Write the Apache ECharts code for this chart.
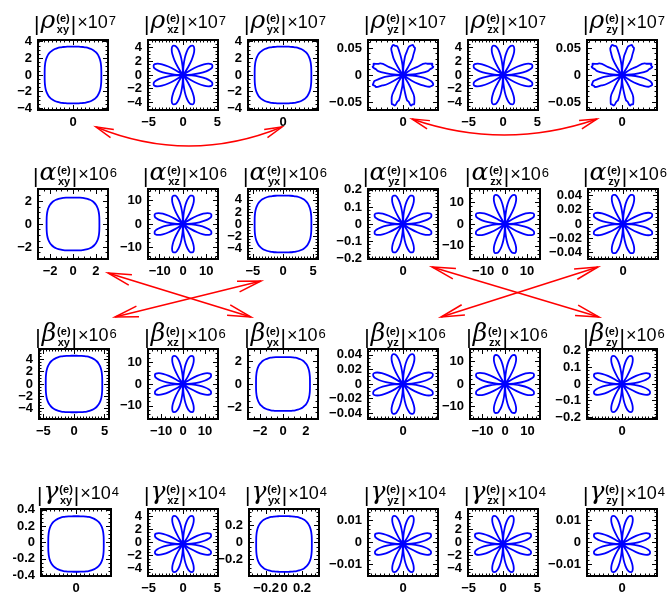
<!DOCTYPE html>
<html><head><meta charset="utf-8">
<script src="https://cdn.jsdelivr.net/npm/echarts@6/dist/echarts.min.js"></script>
<style>html,body{margin:0;padding:0;background:#fff}#c{width:669px;height:595px}</style>
</head><body><div id="c"></div>
<script>
// ---------------- data ----------------
const quantities = ['ρ', 'α', 'β', 'γ'];
const exponents = ['7', '6', '6', '4'];
const components = ['xy', 'xz', 'yx', 'yz', 'zx', 'zy'];
const shapes = [
  ['sq', 'rose', 'sq', 'nrose', 'rose', 'nrose'],
  ['sq', 'rose', 'sq', 'rose', 'rose', 'rose'],
  ['sq', 'rose', 'sq', 'rose', 'rose', 'rose'],
  ['sq', 'rose', 'sq', 'rose', 'rose', 'rose']
];
// half-range of each panel's axes
const rhoRange   = [4.2, 5.1, 4.2, 0.065, 5.1, 0.065];
const alphaRange = [3.05, 15, 5.8, 0.205, 16, 0.049];
const betaRange  = [5.7, 16, 3.05, 0.048, 15.5, 0.21];
const gammaRange = [0.41, 5.1, 0.39, 0.0153, 5.1, 0.0153];
// size of each curve (axis radius of the rounded square, petal length of the rose)
const rhoPeak   = [3.4, 4.5, 3.4, 0.059, 4.5, 0.059];
const alphaPeak = [2.3, 12.8, 4.7, 0.175, 14, 0.043];
const betaPeak  = [4.6, 13.5, 2.35, 0.043, 13.5, 0.177];
const gammaPeak = [0.325, 4.3, 0.31, 0.0129, 4.3, 0.0129];
// tick labels
const rhoYTicks = [[-4,-2,0,2,4],[-4,-2,0,2,4],[-4,-2,0,2,4],[-0.05,0,0.05],[-4,-2,0,2,4],[-0.05,0,0.05]];
const rhoXTicks = [[0],[-5,0,5],[0],[0],[-5,0,5],[0]];
const alphaYTicks = [[-2,0,2],[-10,0,10],[-4,-2,0,2,4],[-0.2,-0.1,0,0.1,0.2],[-10,0,10],[-0.04,-0.02,0,0.02,0.04]];
const alphaXTicks = [[-2,0,2],[-10,0,10],[-5,0,5],[0],[-10,0,10],[0]];
const betaYTicks = [[-4,-2,0,2,4],[-10,0,10],[-2,0,2],[-0.04,-0.02,0,0.02,0.04],[-10,0,10],[-0.2,-0.1,0,0.1,0.2]];
const betaXTicks = [[-5,0,5],[-10,0,10],[-2,0,2],[0],[-10,0,10],[0]];
const gammaYTicks = [[-0.4,-0.2,0,0.2,0.4],[-4,-2,0,2,4],[-0.2,0,0.2],[-0.01,0,0.01],[-4,-2,0,2,4],[-0.01,0,0.01]];
const gammaXTicks = [[0],[-5,0,5],[-0.2,0,0.2],[0],[-5,0,5],[0]];
// minor tick spacing
const rhoMinor   = [0.5, 0.5, 0.5, 0.01, 0.5, 0.01];
const alphaMinor = [0.5, 2, 0.5, 0.02, 2, 0.005];
const betaMinor  = [0.5, 2, 0.5, 0.005, 2, 0.02];
const gammaMinor = [0.05, 0.5, 0.05, 0.002, 0.5, 0.002];
// normalised polar profiles
const squareStep = 5; // degrees, 0..360
const squareProfile = [
  1,1.004,1.014,1.031,1.051,1.075,1.099,1.119,1.134,1.139,1.134,1.119,1.099,1.075,1.051,1.031,1.014,1.004,1,
  1.004,1.014,1.031,1.051,1.075,1.099,1.119,1.134,1.139,1.134,1.119,1.099,1.075,1.051,1.031,1.014,1.004,1,
  1.004,1.014,1.031,1.051,1.075,1.099,1.119,1.134,1.139,1.134,1.119,1.099,1.075,1.051,1.031,1.014,1.004,1,
  1.004,1.014,1.031,1.051,1.075,1.099,1.119,1.134,1.139,1.134,1.119,1.099,1.075,1.051,1.031,1.014,1.004,1
];
const roseStep = 3; // degrees, 0..360
const roseProfile = [
  0,.28,.55,.76,.9,.98,1,.98,.9,.76,.55,.3,.08,0,0,0,0,0,.08,.3,.55,.76,.9,.98,1,.98,.9,.76,.55,.28,0,
  .28,.55,.76,.9,.98,1,.98,.9,.76,.55,.3,.08,0,0,0,0,0,.08,.3,.55,.76,.9,.98,1,.98,.9,.76,.55,.28,0,
  .28,.55,.76,.9,.98,1,.98,.9,.76,.55,.3,.08,0,0,0,0,0,.08,.3,.55,.76,.9,.98,1,.98,.9,.76,.55,.28,0,
  .28,.55,.76,.9,.98,1,.98,.9,.76,.55,.3,.08,0,0,0,0,0,.08,.3,.55,.76,.9,.98,1,.98,.9,.76,.55,.28,0
];
const noisyRoseProfile = [
  0,.3,.52,.79,.87,.99,.96,1,.87,.8,.5,.33,.07,0,0,0,0,0,.09,.29,.58,.72,.93,.95,1,.96,.92,.73,.57,.26,0,
  .31,.53,.74,.93,.95,1,.96,.91,.74,.57,.28,.09,0,0,0,0,0,.07,.33,.5,.8,.86,1,.97,.99,.87,.79,.52,.3,0,
  .27,.57,.73,.92,.96,1,.95,.93,.72,.58,.29,.09,0,0,0,0,0,.08,.31,.53,.78,.88,.98,.98,1,.86,.8,.51,.32,0,
  .29,.51,.8,.86,1,.97,.99,.88,.78,.53,.3,.08,0,0,0,0,0,.07,.33,.56,.74,.91,.96,1,.97,.9,.75,.55,.29,0
];

const rows = [
  {range: rhoRange,   peak: rhoPeak,   yt: rhoYTicks,   xt: rhoXTicks,   minor: rhoMinor},
  {range: alphaRange, peak: alphaPeak, yt: alphaYTicks, xt: alphaXTicks, minor: alphaMinor},
  {range: betaRange,  peak: betaPeak,  yt: betaYTicks,  xt: betaXTicks,  minor: betaMinor},
  {range: gammaRange, peak: gammaPeak, yt: gammaYTicks, xt: gammaXTicks, minor: gammaMinor}
];

// ---------------- layout ----------------
const colLefts = [
  [38, 148, 248, 368, 468, 587],
  [38, 148, 248, 368, 470, 588],
  [39, 148, 248, 368, 470, 587],
  [41, 148, 249, 368, 468, 587]
];
const rowTops = [40, 189, 349, 509];
const titleBase = [29, 181, 342, 500];
const BOX = 70;
const BLUE = '#0000ff';

function minorTicks(R, step) {
  const out = [];
  const k0 = Math.ceil(-R / step - 1e-9), k1 = Math.floor(R / step + 1e-9);
  for (let k = k0; k <= k1; k++) out.push(Math.round(k * step * 1e6) / 1e6);
  return out;
}
function mkAxis(gi, pos, R, ticks, len, labels, fmt, noLine) {
  const isX = pos === 'bottom' || pos === 'top';
  return {
    type: 'value', gridIndex: gi, position: pos, min: -R, max: R,
    axisLine: {show: !noLine, onZero: false, lineStyle: {color: '#000', width: 2}},
    axisTick: ticks ? {show: true, inside: true, length: len, customValues: ticks, lineStyle: {color: '#000', width: 1}} : {show: false},
    axisLabel: labels ? {show: true, customValues: labels, formatter: fmt, fontSize: 13, fontWeight: 'bold',
      fontFamily: 'Liberation Sans', color: '#000', margin: isX ? 7 : 6, lineHeight: 11,
      hideOverlap: false, showMinLabel: true, showMaxLabel: true} : {show: false},
    splitLine: {show: false}, minorTick: {show: false}, minorSplitLine: {show: false}
  };
}

const grid = [], xAxis = [], yAxis = [], polar = [], angleAxis = [], radiusAxis = [], series = [], graphic = [];
const mctx = document.createElement('canvas').getContext('2d');
function tw(t, f) { mctx.font = f; return mctx.measureText(t).width; }

const F_BAR = '21px "Liberation Sans"';
const F_GREEK = 'italic 25px "DejaVu Serif"';
const F_SUB = 'bold 11px "Liberation Sans"';
const F_MAIN = '18px "Liberation Sans"';
const F_EXP = '13px "Liberation Sans"';
function txt(x, base, text, font, size) {
  return {type: 'text', x: x, y: base - 0.31 * size, silent: true,
    style: {text: text, font: font, fill: '#000', align: 'left', verticalAlign: 'middle'}};
}

rows.forEach((row, r) => {
  components.forEach((comp, c) => {
    const gi = grid.length;
    const L = colLefts[r][c], T = rowTops[r];
    const R = row.range[c];
    grid.push({left: L, top: T, width: BOX, height: BOX});
    const hyphen = (r === 3 && c === 0);
    const fmt = v => hyphen ? String(v) : String(v).replace('-', '\u2212');
    const minors = minorTicks(R, row.minor[c]);
    const xt = row.xt[c], yt = row.yt[c];
    // labels are split over two overlaid axes so none of them gets dropped
    const ytA = yt.filter((v, i) => i % 2 === 0), ytB = yt.filter((v, i) => i % 2 === 1);
    xAxis.push(mkAxis(gi, 'bottom', R, xt, 5, xt, fmt));
    xAxis.push(mkAxis(gi, 'bottom', R, minors, 2.5, null));
    xAxis.push(mkAxis(gi, 'top', R, xt, 5, null));
    xAxis.push(mkAxis(gi, 'top', R, minors, 2.5, null));
    yAxis.push(mkAxis(gi, 'left', R, yt, 5, ytA, fmt));
    if (ytB.length) yAxis.push(mkAxis(gi, 'left', R, null, 0, ytB, fmt, true));
    yAxis.push(mkAxis(gi, 'left', R, minors, 2.5, null));
    yAxis.push(mkAxis(gi, 'right', R, yt, 5, null));
    yAxis.push(mkAxis(gi, 'right', R, minors, 2.5, null));

    polar.push({center: [L + BOX / 2, T + BOX / 2], radius: BOX / 2});
    angleAxis.push({polarIndex: gi, type: 'value', min: 0, max: 360, startAngle: 0, clockwise: false, show: false,
      axisLine: {show: false}, axisTick: {show: false}, axisLabel: {show: false}, splitLine: {show: false}});
    radiusAxis.push({polarIndex: gi, type: 'value', min: 0, max: R, show: false,
      axisLine: {show: false}, axisTick: {show: false}, axisLabel: {show: false}, splitLine: {show: false}});
    const shape = shapes[r][c];
    const prof = shape === 'sq' ? squareProfile : (shape === 'rose' ? roseProfile : noisyRoseProfile);
    const step = shape === 'sq' ? squareStep : roseStep;
    const pk = row.peak[c];
    series.push({
      type: 'line', coordinateSystem: 'polar', polarIndex: gi, smooth: 0.4, showSymbol: false, silent: true,
      lineStyle: {color: BLUE, width: 1.8}, itemStyle: {color: BLUE},
      data: prof.map((v, i) => [v * pk, i * step])
    });

    // title |Q^(e)_comp| x 10^n
    const base = titleBase[r];
    const wBar = tw('|', F_BAR), wG = tw(quantities[r], F_GREEK);
    const wS = Math.max(tw('(e)', F_SUB), tw(comp, F_SUB));
    const wM = tw('\u00d710', F_MAIN), wE = tw(exponents[r], F_EXP);
    const total = wBar + 1 + wG + 1 + wS + 1 + wBar + 1 + wM + 1 + wE;
    let x = L + BOX / 2 + 2 - total / 2;
    graphic.push(txt(x, base + 3, '|', F_BAR, 21)); x += wBar + 1;
    graphic.push(txt(x, base, quantities[r], F_GREEK, 25)); x += wG + 1;
    graphic.push(txt(x, base - 7, '(e)', F_SUB, 11));
    graphic.push(txt(x + (wS - tw(comp, F_SUB)) / 2, base + 4, comp, F_SUB, 11)); x += wS + 1;
    graphic.push(txt(x, base + 3, '|', F_BAR, 21)); x += wBar + 1;
    graphic.push(txt(x, base, '\u00d710', F_MAIN, 18)); x += wM + 1;
    graphic.push(txt(x, base - 4, exponents[r], F_EXP, 13));
  });
});

// ---------------- red arrows (annotations) ----------------
function head(tx, ty, dx, dy, len, ang) {
  const n = Math.hypot(dx, dy); dx /= n; dy /= n;
  const a = ang * Math.PI / 180;
  const p = s => [tx + len * (dx * Math.cos(s * a) - dy * Math.sin(s * a)),
                  ty + len * (dx * Math.sin(s * a) + dy * Math.cos(s * a))];
  return {type: 'polyline', silent: true, shape: {points: [p(1), [tx, ty], p(-1)]},
    style: {stroke: '#ff0000', lineWidth: 1.5, fill: null}};
}
function curved(x1, y1, x2, y2, cx, cy) {
  graphic.push({type: 'bezierCurve', silent: true, shape: {x1, y1, x2, y2, cpx1: cx, cpy1: cy},
    style: {stroke: '#ff0000', lineWidth: 1.5, fill: null}});
  graphic.push(head(x1, y1, cx - x1, cy - y1, 18, 14));
  graphic.push(head(x2, y2, cx - x2, cy - y2, 18, 14));
}
function straight(x1, y1, x2, y2) {
  graphic.push({type: 'line', silent: true, shape: {x1, y1, x2, y2}, style: {stroke: '#ff0000', lineWidth: 1.5}});
  graphic.push(head(x1, y1, x2 - x1, y2 - y1, 24, 13));
  graphic.push(head(x2, y2, x1 - x2, y1 - y2, 24, 13));
}
curved(96, 127, 282, 127, 189, 165);
curved(412, 119, 597, 119, 504, 151);
straight(108, 273, 251, 317);
straight(115, 317, 261, 281);
straight(432, 267, 599, 317);
straight(441, 317, 598, 267);

const chart = echarts.init(document.getElementById('c'), null, {renderer: 'canvas'});
chart.setOption({
  animation: false, backgroundColor: '#fff',
  grid, xAxis, yAxis, polar, angleAxis, radiusAxis, series, graphic
});
</script></body></html>
